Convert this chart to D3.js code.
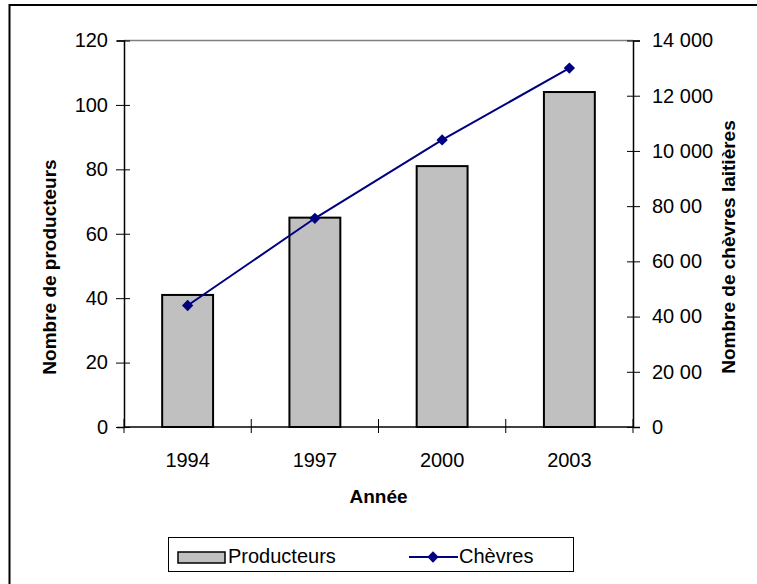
<!DOCTYPE html>
<html>
<head>
<meta charset="utf-8">
<script src="https://cdn.jsdelivr.net/npm/d3@7"></script>
<style>
  html, body { margin: 0; padding: 0; background: #fff; }
  text { font-family: Arial, "Liberation Sans", sans-serif; }
</style>
</head>
<body>
<div id="chart"></div>
<script>
const years = ["1994", "1997", "2000", "2003"];
const producteurs = [41, 65, 81, 104];
const chevres = [4400, 7560, 10400, 13000];
const leftTicks = [0, 20, 40, 60, 80, 100, 120];
const rightTicks = [0, 2000, 4000, 6000, 8000, 10000, 12000, 14000];
const rightTickLabels = ["0", "20 00", "40 00", "60 00", "80 00", "10 000", "12 000", "14 000"];

const W = 757, H = 584;
const M = { left: 124, right: 633, top: 40.5, bottom: 427 };

const svg = d3.select("#chart").append("svg")
  .attr("width", W).attr("height", H);

// Outer frame (cropped on right and bottom)
svg.append("rect")
  .attr("x", 9.5).attr("y", 5)
  .attr("width", W + 10).attr("height", H + 10)
  .attr("fill", "#fff").attr("stroke", "#000").attr("stroke-width", 2);

const x = d3.scaleBand().domain(years).range([M.left, M.right])
  .paddingInner(0.6).paddingOuter(0.3);
const step = x.step();
const yL = d3.scaleLinear().domain([0, 120]).range([M.bottom, M.top]);
const yR = d3.scaleLinear().domain([0, 14000]).range([M.bottom, M.top]);

// Plot area top edge
svg.append("line")
  .attr("x1", M.left).attr("x2", M.right)
  .attr("y1", M.top).attr("y2", M.top)
  .attr("stroke", "#808080").attr("stroke-width", 1.5);

// Bars
svg.append("g").selectAll("rect")
  .data(producteurs).enter().append("rect")
  .attr("x", (d, i) => x(years[i]))
  .attr("y", d => yL(d))
  .attr("width", x.bandwidth())
  .attr("height", d => yL(0) - yL(d))
  .attr("fill", "#c0c0c0")
  .attr("stroke", "#000").attr("stroke-width", 2);

const tickFont = ax => ax.selectAll("text")
  .style("font-size", "20px").style("fill", "#000");

// Left axis
svg.append("g").attr("transform", `translate(${M.left},0)`)
  .call(d3.axisLeft(yL).tickValues(leftTicks).tickSize(7).tickPadding(9))
  .call(ax => ax.select(".domain").attr("stroke", "#000").attr("stroke-width", 1.5))
  .call(ax => ax.selectAll(".tick line").attr("x2", 6).attr("x1", -8).attr("stroke", "#000"))
  .call(tickFont);

// Right axis
svg.append("g").attr("transform", `translate(${M.right},0)`)
  .call(d3.axisRight(yR).tickValues(rightTicks).tickSize(7).tickPadding(12)
    .tickFormat((d, i) => rightTickLabels[i]))
  .call(ax => ax.select(".domain").attr("stroke", "#000").attr("stroke-width", 1.5))
  .call(ax => ax.selectAll(".tick line").attr("x1", -6).attr("x2", 7).attr("stroke", "#000"))
  .call(tickFont);

// Bottom axis: category ticks between bands
const bottom = svg.append("g");
bottom.append("line")
  .attr("x1", M.left).attr("x2", M.right)
  .attr("y1", M.bottom).attr("y2", M.bottom)
  .attr("stroke", "#000").attr("stroke-width", 1.5);
bottom.selectAll("line.cat")
  .data(d3.range(years.length + 1)).enter().append("line")
  .attr("class", "cat")
  .attr("x1", i => M.left + i * step).attr("x2", i => M.left + i * step)
  .attr("y1", M.bottom - 8).attr("y2", M.bottom + 6)
  .attr("stroke", "#000");
bottom.selectAll("text")
  .data(years).enter().append("text")
  .attr("x", d => x(d) + x.bandwidth() / 2)
  .attr("y", M.bottom + 40)
  .attr("text-anchor", "middle")
  .style("font-size", "20px")
  .text(d => d);

// Line series
const cx = (d, i) => x(years[i]) + x.bandwidth() / 2;
const line = d3.line().x(cx).y(d => yR(d));
svg.append("path")
  .datum(chevres)
  .attr("fill", "none").attr("stroke", "#000080").attr("stroke-width", 2)
  .attr("d", line);
const diamond = d3.symbol().type(d3.symbolSquare).size(64);
svg.append("g").selectAll("path")
  .data(chevres).enter().append("path")
  .attr("d", diamond)
  .attr("transform", (d, i) => `translate(${cx(d, i)},${yR(d)}) rotate(45)`)
  .attr("fill", "#000080");

// Axis titles
svg.append("text")
  .attr("transform", "translate(56,267) rotate(-90)")
  .attr("text-anchor", "middle")
  .style("font-size", "19px").style("font-weight", "bold")
  .text("Nombre de producteurs");
svg.append("text")
  .attr("transform", "translate(735,247) rotate(-90)")
  .attr("text-anchor", "middle")
  .style("font-size", "19px").style("font-weight", "bold")
  .text("Nombre de chèvres laitières");
svg.append("text")
  .attr("x", (M.left + M.right) / 2).attr("y", 503)
  .attr("text-anchor", "middle")
  .style("font-size", "19px").style("font-weight", "bold")
  .text("Année");

// Legend
const lg = svg.append("g");
lg.append("rect")
  .attr("x", 168.5).attr("y", 537.5).attr("width", 405).attr("height", 34)
  .attr("fill", "#fff").attr("stroke", "#000").attr("stroke-width", 1);
lg.append("rect")
  .attr("x", 178).attr("y", 552).attr("width", 47).attr("height", 11)
  .attr("fill", "#c0c0c0").attr("stroke", "#000").attr("stroke-width", 1.5);
lg.append("text")
  .attr("x", 228).attr("y", 563)
  .style("font-size", "20px")
  .text("Producteurs");
lg.append("line")
  .attr("x1", 409).attr("x2", 458).attr("y1", 557).attr("y2", 557)
  .attr("stroke", "#000080").attr("stroke-width", 2);
lg.append("path")
  .attr("d", diamond)
  .attr("transform", "translate(433,557) rotate(45)")
  .attr("fill", "#000080");
lg.append("text")
  .attr("x", 459).attr("y", 563)
  .style("font-size", "20px")
  .text("Chèvres");
</script>
</body>
</html>
